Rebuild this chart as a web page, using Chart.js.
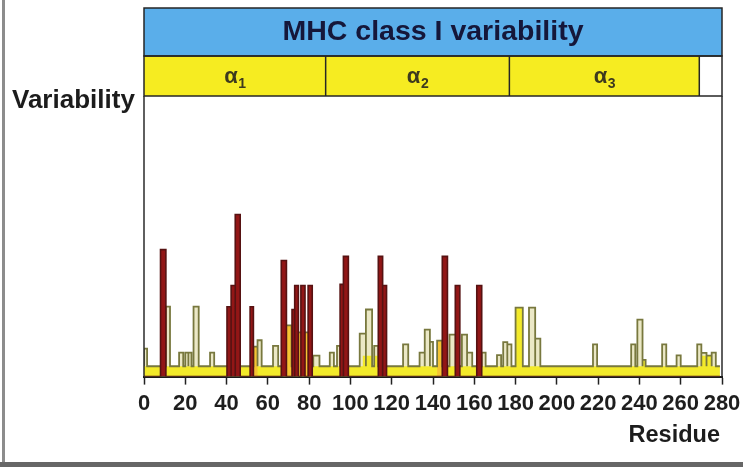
<!DOCTYPE html>
<html><head><meta charset="utf-8">
<script src="https://cdn.jsdelivr.net/npm/chart.js@4.4.1/dist/chart.umd.min.js"></script>
<style>html,body{margin:0;padding:0;background:#fff}#wrap{width:743px;height:467px;position:relative}</style>
</head><body><div id="wrap"><canvas id="c"></canvas></div>
<script>
// ---------- text ----------
const titleText = 'MHC class I variability';
const yAxisLabel = 'Variability';
const xAxisLabel = 'Residue';
// ---------- domains (residue ranges) ----------
const domainLetter = ['α', 'α', 'α'];
const domainIndex = ['1', '2', '3'];
const domainStart = [0, 88, 177];
const domainEnd = [88, 177, 269];
// ---------- axis ----------
const residueMin = 0;
const residueMax = 280;
const xTicks = [0, 20, 40, 60, 80, 100, 120, 140, 160, 180, 200, 220, 240, 260, 280];
const variabilityMax = 100;
const baseLevel = 3.7;
const baseEnd = 279;
// ---------- highly variable residues (dark red) ----------
const redStart = [8, 40.2, 42.2, 44.2, 51.4, 66.5, 71.7, 73, 76, 79.5, 95, 96.6, 113.5, 115.6, 144.5, 150.8, 161.2];
const redEnd   = [10.6, 42.2, 44.2, 46.6, 53, 69, 73, 74.8, 78, 81.5, 96.6, 99, 115.6, 117.5, 147, 153, 163.6];
const redValue = [45.4, 25, 32.6, 58, 25, 41.5, 24, 32.6, 32.6, 32.6, 33, 43, 43, 32.6, 43, 32.6, 32.6];
// ---------- moderately variable residues (olive outline) ----------
const oliveStart = [0, 10.6, 17, 20, 21.5, 24, 32, 53, 55, 62.5, 67.5, 74, 82, 90, 93.5, 104.5, 107.5, 111.5, 125.5, 133.5, 136, 138.5, 142, 148, 154, 156.5, 163.6, 171, 174, 176, 180, 186.5, 189.5, 217.5, 236, 239, 241.5, 251, 258, 268, 270, 272.5, 275];
const oliveEnd   = [1.5, 12.6, 19, 21.5, 23, 26.5, 34, 55, 57, 65, 71.5, 81, 85, 92, 95, 107.5, 110.5, 113.5, 128, 136, 138.5, 140, 144.5, 151, 156.5, 159, 165.5, 173, 176, 178, 183.5, 189.5, 192, 219.5, 238, 241.5, 243, 253, 260, 270, 272.5, 275, 277];
const oliveValue = [10, 25, 8.6, 8.6, 8.6, 25, 8.6, 10.7, 13, 11, 18.3, 15.8, 7.5, 8.6, 11, 15.4, 24, 11, 11.5, 8.6, 16.8, 12.4, 12.9, 15, 15, 8.6, 8.6, 7.7, 12.3, 11.5, 24.7, 24.7, 13.6, 11.5, 11.5, 20.4, 6, 11.5, 7.6, 11.5, 8.5, 7.5, 8.6];
// ---------- orange filled residues ----------
const orangeStart = [53, 67.5, 74, 142];
const orangeEnd   = [55, 71.5, 81, 144.5];
const orangeValue = [10.7, 18.3, 15.8, 12.9];
// ---------- raised yellow fill ----------
const yellowStart = [106, 111.5, 180, 241.5, 270];
const yellowEnd   = [110.5, 113.5, 183.5, 243, 275];
const yellowValue = [7.5, 7.5, 24.7, 6, 7.5];

function stepPoints(starts, ends, values, base, endX) {
  const pts = [{x: residueMin, y: base}];
  for (let i = 0; i < starts.length; i++) {
    pts.push({x: starts[i], y: values[i]});
    pts.push({x: ends[i], y: base});
  }
  pts.push({x: endX, y: base});
  return pts;
}

const FONT = '"Liberation Sans", Arial, sans-serif';

const decor = {
  id: 'decor',
  beforeDraw(chart) {
    const c = chart.ctx;
    c.save(); c.fillStyle = '#fff'; c.fillRect(0, 0, chart.width, chart.height); c.restore();
  },
  afterDraw(chart) {
    const c = chart.ctx, a = chart.chartArea, x = chart.scales.x;
    const L = x.getPixelForValue(residueMin), R = x.getPixelForValue(residueMax);
    const top = 8, mid = 56, bot = a.top - 1;
    const line = (x0, y0, x1, y1) => { c.beginPath(); c.moveTo(x0, y0); c.lineTo(x1, y1); c.stroke(); };
    c.save();
    // screenshot frame
    c.fillStyle = '#8c8c8c'; c.fillRect(2, 0, 3, 463);
    c.fillStyle = '#666'; c.fillRect(0, 462, chart.width, 5);
    // header boxes
    c.fillStyle = '#5aaeea'; c.fillRect(L, top, R - L, mid - top);
    c.fillStyle = '#f6ec21';
    domainStart.forEach((s, i) => {
      const x0 = x.getPixelForValue(s), x1 = x.getPixelForValue(domainEnd[i]);
      c.fillRect(x0, mid, x1 - x0, bot - mid);
    });
    c.strokeStyle = '#262626'; c.lineWidth = 1.5;
    c.strokeRect(L, top, R - L, mid - top);
    c.strokeRect(L, mid, R - L, bot - mid);
    domainEnd.forEach(e => { const p = x.getPixelForValue(e); line(p, mid, p, bot); });
    // plot sides
    c.strokeStyle = '#2a2a2a'; c.lineWidth = 1.5;
    line(L, bot, L, a.bottom);
    line(R, bot, R, a.bottom);
    // title
    c.fillStyle = '#15173a'; c.textAlign = 'center'; c.textBaseline = 'middle';
    c.font = 'bold 28.5px ' + FONT;
    c.fillText(titleText, (L + R) / 2, 32);
    // domain labels
    c.textBaseline = 'alphabetic'; c.textAlign = 'left'; c.fillStyle = '#3d3a1e';
    domainStart.forEach((s, i) => {
      const cx = (x.getPixelForValue(s) + x.getPixelForValue(domainEnd[i])) / 2;
      c.font = 'bold 22px ' + FONT; const wa = c.measureText(domainLetter[i]).width;
      c.font = 'bold 14px ' + FONT; const ws = c.measureText(domainIndex[i]).width;
      const sx = cx - (wa + ws) / 2;
      c.font = 'bold 22px ' + FONT; c.fillText(domainLetter[i], sx, 83);
      c.font = 'bold 14px ' + FONT; c.fillText(domainIndex[i], sx + wa + 0.5, 88);
    });
    // axis labels
    c.fillStyle = '#1c1c1c';
    c.font = 'bold 26px ' + FONT; c.textAlign = 'left';
    c.fillText(yAxisLabel, 12, 108);
    c.font = 'bold 23.5px ' + FONT; c.textAlign = 'right';
    c.fillText(xAxisLabel, 720, 442);
    c.restore();
  }
};

const common = {pointRadius: 0, pointHitRadius: 0, stepped: true, tension: 0};

new Chart(document.getElementById('c'), {
  type: 'line',
  data: {
    datasets: [
      Object.assign({label: 'high', data: stepPoints(redStart, redEnd, redValue, 0, baseEnd),
        borderColor: '#561212', borderWidth: 1.6, backgroundColor: '#921616', fill: 'origin'}, common),
      Object.assign({label: 'outline', data: stepPoints(oliveStart, oliveEnd, oliveValue, baseLevel, baseEnd),
        borderColor: '#78783e', borderWidth: 1.8, fill: false}, common),
      Object.assign({label: 'orange', data: stepPoints(orangeStart, orangeEnd, orangeValue, 0, baseEnd),
        borderColor: 'rgba(0,0,0,0)', borderWidth: 0, backgroundColor: '#f5c433', fill: 'origin'}, common),
      Object.assign({label: 'yellow', data: stepPoints(yellowStart, yellowEnd, yellowValue, baseLevel, baseEnd),
        borderColor: 'rgba(0,0,0,0)', borderWidth: 0, backgroundColor: '#f3ea2a', fill: 'origin'}, common),
      Object.assign({label: 'pale', data: stepPoints(oliveStart, oliveEnd, oliveValue, baseLevel, baseEnd),
        borderColor: 'rgba(0,0,0,0)', borderWidth: 0, backgroundColor: '#ebe8c6', fill: 'origin'}, common)
    ]
  },
  options: {
    responsive: true, maintainAspectRatio: false, animation: false, events: [],
    layout: {autoPadding: false, padding: {left: 144, right: 21, top: 97, bottom: 44}},
    plugins: {legend: {display: false}, tooltip: {enabled: false}},
    scales: {
      x: {
        type: 'linear', min: residueMin, max: residueMax, z: 1,
        afterBuildTicks: s => { s.ticks = xTicks.map(v => ({value: v})); },
        afterFit: s => { s.paddingLeft = 0; s.paddingRight = 0; },
        ticks: {autoSkip: false, maxRotation: 0, padding: 6, color: '#1e1e1e',
          font: {family: FONT, weight: 'bold', size: 22}},
        grid: {display: true, drawOnChartArea: false, drawTicks: true, tickLength: 8, tickColor: '#222', tickWidth: 1.5},
        border: {display: true, color: '#1a1a1a', width: 2}
      },
      y: {display: false, min: 0, max: variabilityMax}
    }
  },
  plugins: [decor]
});
</script>
</body></html>
